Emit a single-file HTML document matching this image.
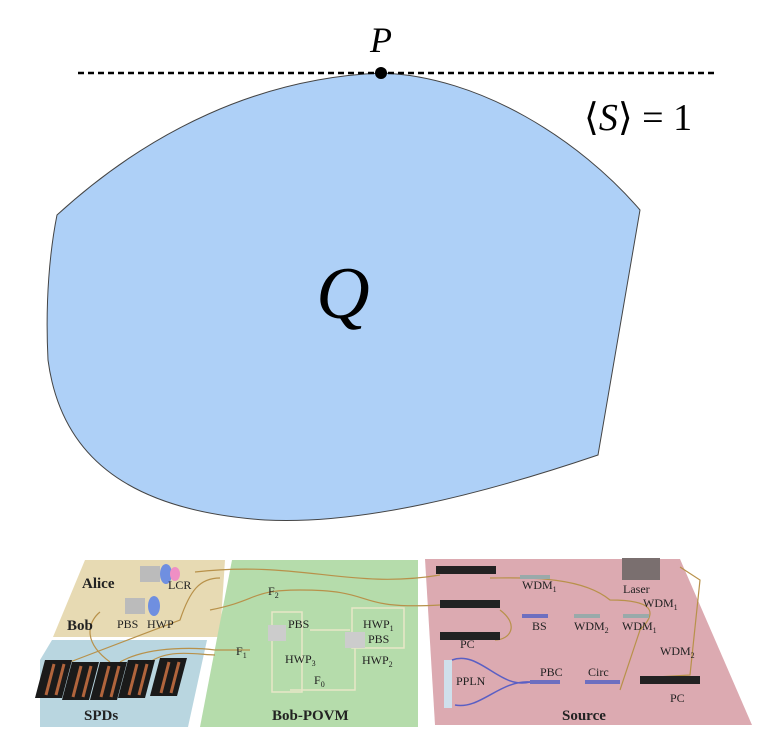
<!DOCTYPE html>
<html><head><meta charset="utf-8"><style>
html,body{margin:0;padding:0;background:#fff;width:768px;height:744px;overflow:hidden}
svg{display:block}
text{font-family:"Liberation Serif",serif}
</style></head><body>
<svg width="768" height="744" viewBox="0 0 768 744" xmlns="http://www.w3.org/2000/svg">
<path d="M57,215 C150,130 260,78 381,73 C480,76 580,140 640,210 L598,455 C480,495 360,525 265,520 C120,510 60,450 48,360 C45,300 50,250 57,215 Z" fill="#aed0f7" stroke="#444" stroke-width="1"/>
<line x1="78" y1="73" x2="714" y2="73" stroke="#000" stroke-width="2.5" stroke-dasharray="6,4"/>
<circle cx="381" cy="73" r="6" fill="#000"/>
<text x="381" y="52" font-size="36" font-style="italic" text-anchor="middle">P</text>
<text x="584" y="130" font-size="38">⟨<tspan font-style="italic">S</tspan>⟩ = 1</text>
<text x="343" y="318" font-size="74" font-style="italic" text-anchor="middle">Q</text>

<polygon points="85,560 225,560 220,637 53,637" fill="#e7dab3"/>
<polygon points="52,640 207,640 188,727 40,727 40,660" fill="#b9d6e0"/>
<polygon points="232,560 418,560 418,727 200,727" fill="#b5dcab"/>
<polygon points="425,559 680,559 752,725 435,725" fill="#dcaab1"/>

<g fill="none" stroke="#b8914a" stroke-width="1.2">
<path d="M195,572 C300,560 350,590 440,575"/>
<path d="M210,610 C260,600 250,590 300,590 C380,590 350,610 440,605"/>
<path d="M220,578 C200,578 190,590 180,620 L70,662"/>
<path d="M100,612 C90,620 80,640 110,662"/>
<path d="M120,662 C150,645 200,648 215,650 L250,650"/>
<path d="M150,662 C170,648 200,655 215,655"/>
<path d="M490,578 C520,578 580,575 610,600 C650,600 660,610 640,630 L620,690"/>
<path d="M500,610 C520,625 510,640 495,640"/>
<path d="M640,678 L690,675 L700,580 L680,567"/>
</g>
<g stroke="#5a5fc4" stroke-width="1.5" fill="none">
<path d="M530,682 C500,690 480,650 452,660"/>
<path d="M530,682 C500,680 480,710 455,705"/>
</g>
<rect x="530" y="680" width="30" height="4" fill="#6d6fc0"/>
<rect x="585" y="680" width="35" height="4" fill="#6d6fc0"/>
<rect x="520" y="575" width="30" height="4" fill="#9aa"/>
<rect x="522" y="614" width="26" height="4" fill="#6d6fc0"/>
<rect x="574" y="614" width="26" height="4" fill="#9aa"/>
<rect x="623" y="614" width="26" height="4" fill="#9aa"/>
<rect x="444" y="660" width="8" height="48" fill="#cfe0ec"/>
<rect x="622" y="558" width="38" height="22" fill="#7a6f6f"/>
<g fill="#222">
<rect x="436" y="566" width="60" height="8"/><rect x="440" y="600" width="60" height="8"/><rect x="440" y="632" width="60" height="8"/><rect x="640" y="676" width="60" height="8"/>
</g>
<g fill="#1a1a1a">
<polygon points="45,660 72,660 62,698 35,698"/>
<polygon points="72,662 99,662 89,700 62,700"/>
<polygon points="100,662 127,662 117,700 90,700"/>
<polygon points="128,660 155,660 145,698 118,698"/>
<polygon points="160,658 187,658 177,696 150,696"/>
</g>
<g fill="none" stroke="#b0643c" stroke-width="3">
<path d="M54,664 L46,695 M64,664 L56,695"/>
<path d="M81,666 L73,697 M91,666 L83,697"/>
<path d="M109,666 L101,697 M119,666 L111,697"/>
<path d="M137,664 L129,695 M147,664 L139,695"/>
<path d="M169,662 L161,693 M179,662 L171,693"/>
</g>
<g fill="none" stroke="#e8e6c8" stroke-width="1.5">
<rect x="272" y="612" width="30" height="80"/><rect x="352" y="608" width="52" height="40"/><path d="M310,630 L350,630 M355,648 L355,690 L290,690"/>
</g>
<rect x="140" y="566" width="20" height="16" fill="#bbb"/><ellipse cx="166" cy="574" rx="6" ry="10" fill="#6f8fe0"/><ellipse cx="175" cy="574" rx="5" ry="7" fill="#ef8fc4"/>
<rect x="125" y="598" width="20" height="16" fill="#bbb"/><ellipse cx="154" cy="606" rx="6" ry="10" fill="#6f8fe0"/>
<rect x="268" y="625" width="18" height="16" fill="#ccc"/><rect x="345" y="632" width="20" height="16" fill="#ccc"/>
<g font-size="12" fill="#222">
<text x="82" y="588" font-weight="bold" font-size="15">Alice</text>
<text x="67" y="630" font-weight="bold" font-size="15">Bob</text>
<text x="168" y="589">LCR</text>
<text x="117" y="628">PBS</text><text x="147" y="628">HWP</text>
<text x="84" y="720" font-weight="bold" font-size="15">SPDs</text>
<text x="272" y="720" font-weight="bold" font-size="15">Bob-POVM</text>
<text x="268" y="595">F<tspan font-size="8" dy="3">2</tspan></text>
<text x="288" y="628">PBS</text>
<text x="363" y="628">HWP<tspan font-size="8" dy="3">1</tspan></text>
<text x="368" y="643">PBS</text>
<text x="362" y="664">HWP<tspan font-size="8" dy="3">2</tspan></text>
<text x="285" y="663">HWP<tspan font-size="8" dy="3">3</tspan></text>
<text x="236" y="655">F<tspan font-size="8" dy="3">1</tspan></text>
<text x="314" y="684">F<tspan font-size="8" dy="3">0</tspan></text>
<text x="522" y="589">WDM<tspan font-size="8" dy="3">1</tspan></text>
<text x="623" y="593">Laser</text>
<text x="643" y="607">WDM<tspan font-size="8" dy="3">1</tspan></text>
<text x="532" y="630">BS</text>
<text x="574" y="630">WDM<tspan font-size="8" dy="3">2</tspan></text>
<text x="622" y="630">WDM<tspan font-size="8" dy="3">1</tspan></text>
<text x="460" y="648">PC</text>
<text x="660" y="655">WDM<tspan font-size="8" dy="3">2</tspan></text>
<text x="456" y="685">PPLN</text>
<text x="540" y="676">PBC</text>
<text x="588" y="676">Circ</text>
<text x="670" y="702">PC</text>
<text x="562" y="720" font-weight="bold" font-size="15">Source</text>
</g>
</svg>
</body></html>
